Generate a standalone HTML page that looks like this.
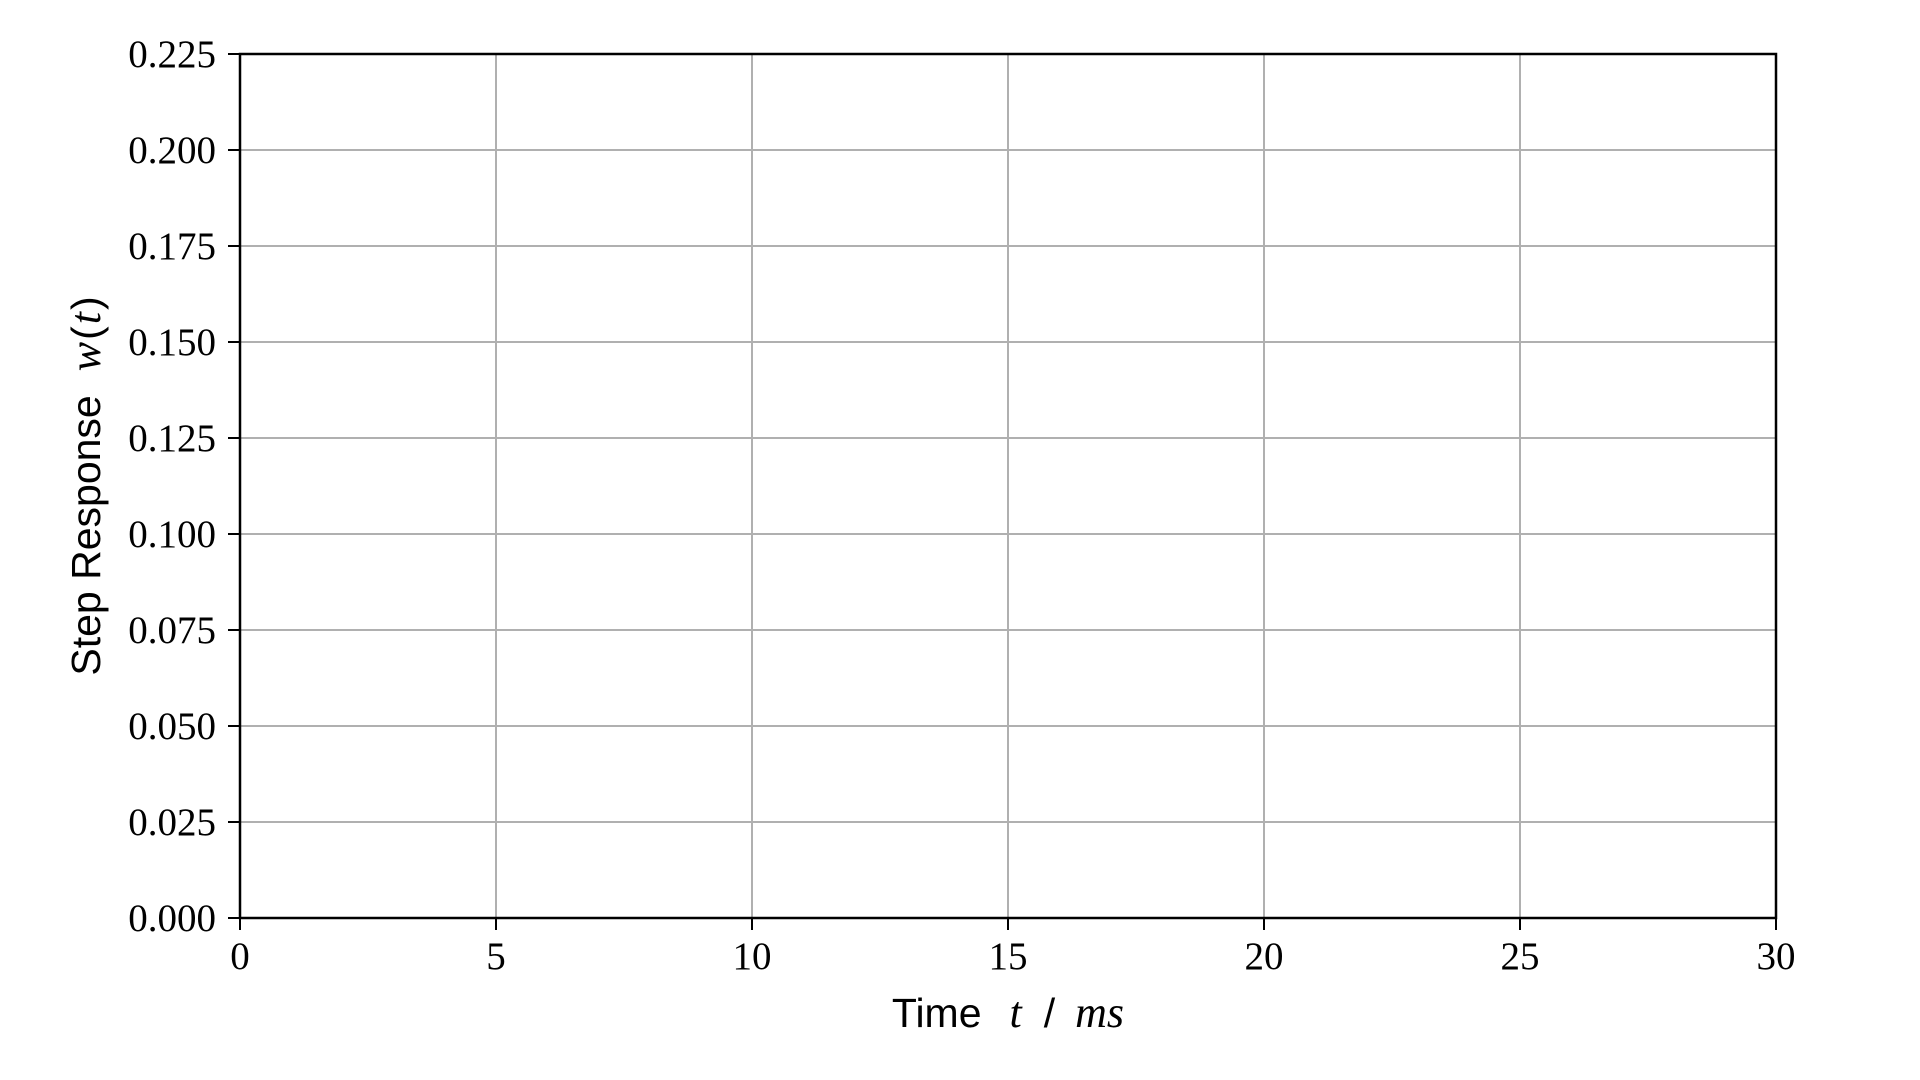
<!DOCTYPE html>
<html><head><meta charset="utf-8"><style>
html,body{margin:0;padding:0;background:#fff;}
svg{display:block;}
.tick{font-family:"Liberation Serif",serif;font-size:39px;fill:#000;}
.lab{font-family:"Liberation Sans",sans-serif;font-size:41px;fill:#000;}
.it{font-family:"Liberation Serif",serif;font-style:italic;font-size:44px;}
</style></head><body>
<svg id="chart" width="1920" height="1080" viewBox="0 0 1920 1080" xmlns="http://www.w3.org/2000/svg">
<g id="grid"></g>
<g id="axes"></g>
<text class="lab" x="1008" y="1027" text-anchor="middle">Time<tspan class="it" dx="28">t</tspan><tspan dx="22">/</tspan><tspan class="it" dx="20">ms</tspan></text>
<text class="lab" transform="translate(100,486) rotate(-90)" text-anchor="middle">Step Response<tspan class="it" dx="24">w</tspan><tspan dx="2">(</tspan><tspan class="it" dx="2">t</tspan><tspan dx="2">)</tspan></text>
</svg>
<script>
const xTicks = [0,5,10,15,20,25,30];
const yTicks = [0,0.025,0.05,0.075,0.1,0.125,0.15,0.175,0.2,0.225];
const xTickLabels = ["0","5","10","15","20","25","30"];
const yTickLabels = ["0.000","0.025","0.050","0.075","0.100","0.125","0.150","0.175","0.200","0.225"];
const L=240,R=1776,T=54,B=918;
const xS=v=>L+(v-0)/(30-0)*(R-L);
const yS=v=>B-(v-0)/(0.225-0)*(B-T);
const NS="http://www.w3.org/2000/svg";
const grid=document.getElementById('grid'), axes=document.getElementById('axes');
function mk(tag,attrs,parent){const e=document.createElementNS(NS,tag);for(const k in attrs)e.setAttribute(k,attrs[k]);parent.appendChild(e);return e;}
xTicks.forEach((v,i)=>{
  const x=xS(v);
  const g=mk('line',{x1:x,x2:x,y1:T,y2:B,stroke:'#b0b0b0','stroke-width':2},grid);
  
  
  const t=mk('line',{x1:x,x2:x,y1:B,y2:B+12,stroke:'#000','stroke-width':2},axes);
  
  
  const l=mk('text',{x:x,y:B+51,'text-anchor':'middle',class:'tick'},axes);
  l.textContent=xTickLabels[i];
  
  
});
yTicks.forEach((v,i)=>{
  const y=yS(v);
  const g=mk('line',{x1:L,x2:R,y1:y,y2:y,stroke:'#b0b0b0','stroke-width':2},grid);
  
  
  const t=mk('line',{x1:L-12,x2:L,y1:y,y2:y,stroke:'#000','stroke-width':2},axes);
  
  
  const l=mk('text',{x:L-24,y:y+13,'text-anchor':'end',class:'tick'},axes);
  l.textContent=yTickLabels[i];
  
  
});
const f=mk('rect',{x:L,y:T,width:R-L,height:B-T,fill:'none',stroke:'#000','stroke-width':2.5},axes);


</script>
</body></html>
